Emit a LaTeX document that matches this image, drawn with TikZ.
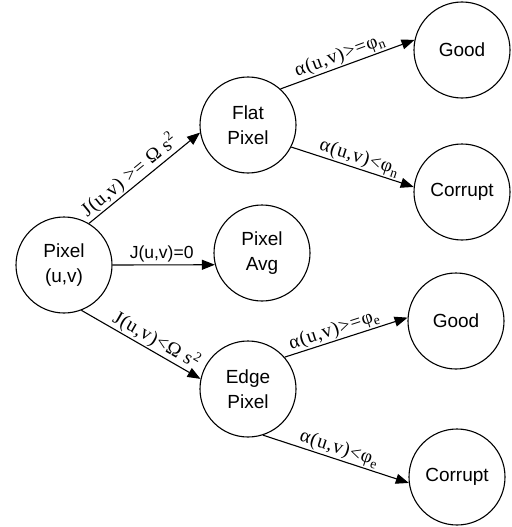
\documentclass[tikz,border=0pt]{standalone}
\usepackage{fontspec}
\setsansfont{Liberation Sans}
\newfontfamily\serf[LetterSpace=4]{Liberation Serif}
\usetikzlibrary{arrows.meta}
\tikzset{
  st/.style={circle, draw, line width=1.1pt, minimum size=96pt, inner sep=0pt, align=center,
    font=\sffamily\fontsize{19}{25}\selectfont},
  arr/.style={line width=1.1pt, -{Triangle[length=13pt,width=10pt]}},
  lab/.style={font=\serf\fontsize{19.5}{20}\selectfont, inner sep=1pt, sloped, above},
  slab/.style={font=\sffamily\fontsize{17.5}{20}\selectfont, inner sep=2pt, above}
}
\begin{document}
\begin{tikzpicture}[x=1pt,y=-1pt]
\useasboundingbox (0,0) rectangle (511,527);
\node[st] (pix) at (64,265) {Pixel\\(u,v)};
\node[st] (flat) at (248,125) {Flat\\Pixel};
\node[st] (avg) at (262,253) {Pixel\\Avg};
\node[st] (edge) at (248,389) {Edge\\Pixel};
\node[st] (good1) at (462,50) {Good};
\node[st] (bad1) at (462,192) {Corrupt};
\node[st] (good2) at (456,321) {Good};
\node[st] (bad2) at (457,477) {Corrupt};
\draw[arr] (pix.59) -- (flat.189) node[lab, pos=.43] {J(u,v) >= Ω s\textsuperscript{2}};
\draw[arr] (pix.0) -- (avg.194.5) node[slab, pos=.48] {J(u,v)=0};
\draw[arr] (pix.-69) -- (edge.168) node[lab, pos=.58] {J(u,v)<Ω s\textsuperscript{2}};
\draw[arr] (flat.48) -- (good1.168) node[lab, pos=.47] {α(u,v)>=φ\textsubscript{n}};
\draw[arr] (flat.-27) -- (bad1.174) node[lab, pos=.53] {α(u,v)<φ\textsubscript{n}};
\draw[arr] (edge.41) -- (good2.176) node[lab, pos=.43] {α(u,v)>=φ\textsubscript{e}};
\draw[arr] (edge.-72) -- (bad2.187) node[lab, pos=.5] {α(u,v)<φ\textsubscript{e}};
\end{tikzpicture}
\end{document}
